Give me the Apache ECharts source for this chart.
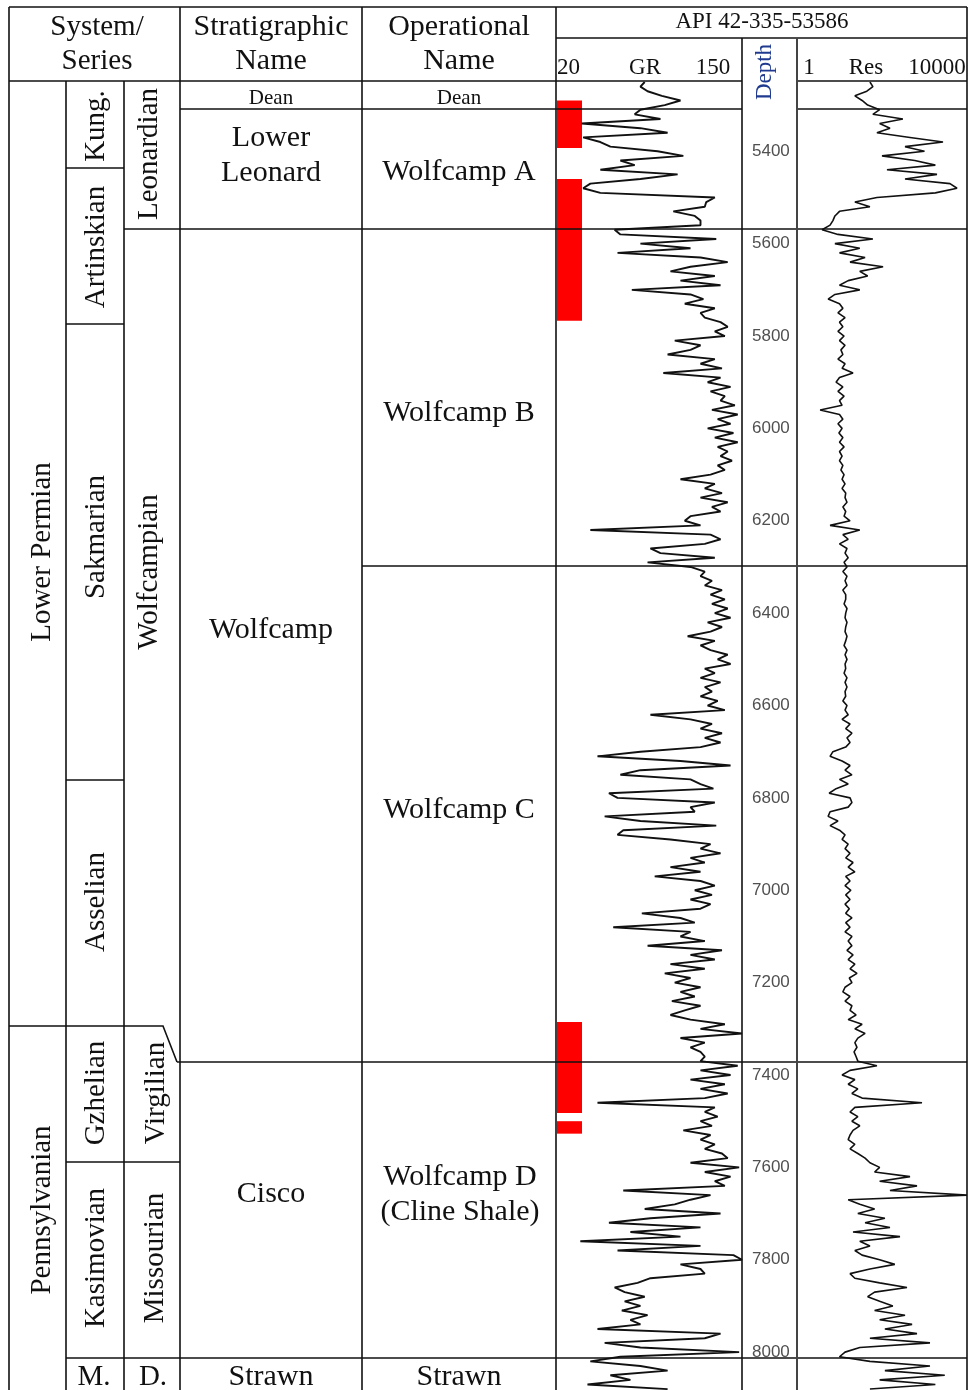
<!DOCTYPE html>
<html>
<head>
<meta charset="utf-8">
<script src="https://cdn.jsdelivr.net/npm/echarts@6/dist/echarts.min.js"></script>
<style>
  html, body { margin: 0; padding: 0; background: #fff; }
  #chart { width: 969px; height: 1390px; }
</style>
</head>
<body>
<div id="chart"></div>
<script>
// log sampling: first depth and step (ft)
const logTop = 5250
const logStep = 10

// gamma ray (API), one value every 10 ft from 5250 ft
const grValues = [
  82, 79, 84, 94, 107, 96, 79, 75, 93, 38,
  79, 98, 39, 51, 58, 91, 109, 65, 75, 51,
  105, 79, 44, 39, 51, 131, 125, 124, 102, 117,
  121, 121, 61, 65, 132, 79, 114, 63, 121, 140,
  114, 100, 131, 107, 135, 73, 114, 123, 110, 131,
  121, 124, 135, 140, 131, 138, 103, 121, 114, 98,
  131, 121, 136, 95, 135, 126, 142, 128, 138, 135,
  145, 129, 147, 133, 142, 126, 144, 131, 147, 133,
  140, 135, 143, 133, 138, 128, 107, 131, 124, 136,
  121, 140, 129, 135, 114, 110, 121, 44, 128, 135,
  124, 86, 93, 131, 84, 114, 124, 121, 129, 124,
  136, 128, 138, 129, 140, 131, 142, 126, 136, 128,
  112, 131, 121, 128, 140, 133, 142, 124, 131, 121,
  135, 124, 129, 121, 133, 126, 138, 86, 114, 129,
  121, 136, 124, 135, 121, 79, 49, 107, 142, 79,
  65, 114, 121, 130, 57, 63, 131, 114, 117, 54,
  79, 132, 67, 63, 100, 128, 121, 135, 114, 124,
  100, 121, 89, 121, 131, 117, 129, 114, 128, 121,
  80, 107, 117, 60, 114, 107, 124, 84, 136, 114,
  131, 100, 124, 96, 114, 103, 121, 107, 117, 101,
  121, 110, 100, 114, 138, 121, 150, 107, 124, 114,
  121, 124, 121, 147, 121, 142, 114, 138, 121, 140,
  124, 49, 131, 124, 133, 121, 129, 109, 128, 121,
  131, 124, 136, 140, 114, 148, 124, 142, 131, 138,
  67, 128, 114, 103, 82, 135, 86, 57, 121, 72,
  107, 37, 121, 63, 144, 150, 107, 121, 124, 86,
  77, 61, 68, 82, 68, 79, 66, 84, 72, 79,
  49, 135, 124, 54, 79, 148, 65, 44, 79, 98,
  58, 72, 42, 98
]

// resistivity (ohm.m), same sampling
const resValues = [
  52, 61, 44, 23, 34, 46, 88, 61, 310, 88,
  154, 76, 456, 2725, 348, 1000, 100, 590, 1800, 131,
  1968, 348, 3981, 5821, 1800, 76, 23, 52, 10, 7.8,
  7, 6, 3.9, 9.2, 61, 7.8, 30, 10, 40, 17.7,
  106, 30, 46, 16, 10, 30, 7.8, 5.4, 10, 12,
  9.2, 13.5, 10, 12, 9.2, 12.8, 10, 13.5, 10.8, 12,
  9.2, 13.5, 11.5, 20.8, 10, 8.3, 12, 9.2, 12.8, 10,
  11.5, 3.5, 10, 12, 9.2, 11.5, 9.7, 12, 10, 12.8,
  10, 11.5, 10, 12, 10.8, 12.8, 11.5, 13.5, 11.5, 14,
  13.5, 15, 12, 14, 12.8, 17.7, 6, 30, 12, 16,
  10, 15, 13.5, 16, 12.8, 15, 12, 15, 13.5, 15,
  12, 14, 14, 12.8, 15, 14, 13.5, 15, 14, 13.5,
  15, 14, 12.8, 15, 13.5, 15, 13.5, 14, 12.8, 15,
  13.5, 15, 13.5, 14, 12, 15, 13.5, 16, 11.5, 17.7,
  14, 19.6, 15, 17.7, 14, 7, 6, 11.5, 17.7, 13.5,
  19.6, 10, 16, 8.3, 5.7, 17.7, 19.6, 16, 6, 5.4,
  9.2, 6, 10, 13.5, 11.5, 16, 13.5, 17.7, 14, 20.8,
  16, 23, 14, 17.7, 13.5, 18.5, 14, 17.7, 13.5, 17,
  14, 19.6, 14, 17.7, 13.5, 19.6, 16, 19.6, 15, 20.8,
  16, 23, 17.7, 25.8, 17, 19.6, 13.5, 12, 17.7, 13.5,
  19.6, 17.7, 24.5, 16, 34, 23, 40, 27, 23, 25.8,
  22, 24.5, 27, 76, 17.7, 11.5, 23, 16, 27, 19.6,
  34, 874, 23, 17.7, 27, 19.6, 30, 20.8, 17.7, 16,
  23, 17.7, 27, 40, 52, 88, 67, 456, 88, 666,
  154, 10000, 16, 30, 67, 27, 117, 40, 154, 20.8,
  265, 30, 52, 23, 34, 88, 200, 52, 17.7, 23,
  88, 387, 67, 46, 88, 180, 67, 348, 88, 510,
  117, 666, 52, 1346, 30, 13.5, 10, 52, 1346, 117,
  3000, 88, 1800, 52
]

const depthTicks = [5400, 5600, 5800, 6000, 6200, 6400, 6600, 6800, 7000, 7200, 7400, 7600, 7800, 8000]

// cored intervals [top, base] in ft
const coreIntervals = [[5290, 5393], [5460, 5767], [7285, 7482], [7500, 7527]]

const depthMin = 5250
const depthMax = 8082

const serif = '"Liberation Serif", "Times New Roman", serif'

const chart = echarts.init(document.getElementById('chart'))

function seg(x1, y1, x2, y2, w, c) {
  return {
    type: 'line',
    z: 20,
    shape: { x1: x1, y1: y1, x2: x2, y2: y2 },
    style: { stroke: c || '#111', lineWidth: w || 1.6 }
  }
}

function txt(s, x, y, size, opt) {
  opt = opt || {}
  return {
    type: 'text',
    z: 30,
    x: x,
    y: y,
    rotation: opt.rot ? Math.PI / 2 : 0,
    style: {
      text: s,
      x: 0,
      y: 0,
      fill: opt.color || '#111',
      fontSize: size,
      fontFamily: serif,
      align: opt.align || 'center',
      verticalAlign: 'middle'
    }
  }
}

// table frame
const tableLines = [
  [9, 7, 967, 7],
  [556, 38, 967, 38],
  [9, 81, 742, 81],
  [797, 81, 967, 81],
  [9, 7, 9, 1390],
  [66, 81, 66, 1390],
  [124, 81, 124, 1390],
  [180, 7, 180, 1390],
  [362, 7, 362, 1390],
  [556, 7, 556, 1390],
  [742, 38, 742, 1390],
  [967, 7, 967, 1390],
  [180, 109, 742, 109],
  [797, 109, 967, 109],
  [66, 168, 124, 168],
  [124, 229, 967, 229],
  [66, 324, 124, 324],
  [362, 566, 967, 566],
  [66, 780, 124, 780],
  [177, 1062, 967, 1062],
  [66, 1162, 180, 1162],
  [66, 1358, 967, 1358]
]

const graphics = tableLines.map(l => seg(l[0], l[1], l[2], l[3]))
graphics.push(seg(797, 38, 797, 1390, 2, '#444'))
graphics.push({
  type: 'polyline',
  z: 20,
  shape: { points: [[9, 1026], [163, 1026], [177, 1062]] },
  style: { stroke: '#111', lineWidth: 1.6, fill: null }
})

// header text
graphics.push(
  txt('System/', 97, 27, 29),
  txt('Series', 97, 61, 29),
  txt('Stratigraphic', 271, 27, 30),
  txt('Name', 271, 61, 30),
  txt('Operational', 459, 27, 30),
  txt('Name', 459, 61, 30),
  txt('API 42-335-53586', 762, 22, 23),
  txt('20', 557, 68, 23, { align: 'left' }),
  txt('GR', 645, 68, 23),
  txt('150', 713, 68, 23),
  txt('1', 809, 68, 23),
  txt('Res', 866, 68, 23),
  txt('10000', 937, 68, 23),
  txt('Depth', 765, 72, 23, { rot: true, color: '#1f3a8f' })
)

// body text
graphics.push(
  txt('Lower Permian', 42, 552, 29, { rot: true }),
  txt('Pennsylvanian', 42, 1210, 29, { rot: true }),
  txt('Kung.', 96, 126, 29, { rot: true }),
  txt('Artinskian', 96, 247, 29, { rot: true }),
  txt('Sakmarian', 96, 537, 29, { rot: true }),
  txt('Asselian', 96, 902, 29, { rot: true }),
  txt('Gzhelian', 96, 1093, 29, { rot: true }),
  txt('Kasimovian', 96, 1258, 29, { rot: true }),
  txt('M.', 94, 1377, 29),
  txt('Leonardian', 149, 154, 29, { rot: true }),
  txt('Wolfcampian', 149, 572, 29, { rot: true }),
  txt('Virgilian', 156, 1093, 29, { rot: true }),
  txt('Missourian', 155, 1258, 29, { rot: true }),
  txt('D.', 153, 1377, 29),
  txt('Dean', 271, 98, 21),
  txt('Lower', 271, 138, 30),
  txt('Leonard', 271, 173, 30),
  txt('Wolfcamp', 271, 630, 30),
  txt('Cisco', 271, 1194, 30),
  txt('Strawn', 271, 1377, 30),
  txt('Dean', 459, 98, 21),
  txt('Wolfcamp A', 459, 172, 30),
  txt('Wolfcamp B', 459, 413, 30),
  txt('Wolfcamp C', 459, 810, 30),
  txt('Wolfcamp D', 460, 1177, 30),
  txt('(Cline Shale)', 460, 1212, 30),
  txt('Strawn', 459, 1377, 30)
)

const depthAxis = (idx, withLabels) => ({
  type: 'value',
  gridIndex: idx,
  inverse: true,
  min: depthMin,
  max: depthMax,
  axisLine: { show: false },
  axisTick: { show: false },
  splitLine: { show: false },
  axisLabel: withLabels ? {
    show: true,
    inside: true,
    margin: 10,
    customValues: depthTicks,
    formatter: v => String(v),
    color: '#505050',
    fontSize: 17,
    fontFamily: '"Liberation Sans", Arial, sans-serif'
  } : { show: false }
})

const option = {
  backgroundColor: '#fff',
  animation: false,
  grid: [
    { left: 556, top: 82, width: 186, height: 1308 },
    { left: 742, top: 82, width: 55, height: 1308 },
    { left: 797, top: 82, width: 170, height: 1308 }
  ],
  xAxis: [
    { type: 'value', gridIndex: 0, min: 20, max: 150, show: false },
    { type: 'value', gridIndex: 1, min: 0, max: 1, show: false },
    { type: 'log', gridIndex: 2, min: 1, max: 10000, show: false }
  ],
  yAxis: [depthAxis(0, false), depthAxis(1, true), depthAxis(2, false)],
  graphic: graphics,
  series: [
    {
      name: 'Core',
      type: 'custom',
      xAxisIndex: 0,
      yAxisIndex: 0,
      data: coreIntervals,
      encode: { y: [0, 1] },
      renderItem: function (params, api) {
        const top = api.coord([20, api.value(0)])
        const base = api.coord([20, api.value(1)])
        return {
          type: 'rect',
          shape: { x: top[0] + 1, y: top[1], width: 25, height: base[1] - top[1] },
          style: { fill: '#ff0000' }
        }
      }
    },
    {
      name: 'GR',
      type: 'line',
      xAxisIndex: 0,
      yAxisIndex: 0,
      data: grValues.map((v, i) => [v, logTop + i * logStep]),
      showSymbol: false,
      clip: true,
      lineStyle: { color: '#111', width: 1.9 }
    },
    {
      name: 'Res',
      type: 'line',
      xAxisIndex: 2,
      yAxisIndex: 2,
      data: resValues.map((v, i) => [v, logTop + i * logStep]),
      showSymbol: false,
      clip: true,
      lineStyle: { color: '#111', width: 1.6 }
    }
  ]
}

chart.setOption(option)
</script>
</body>
</html>
